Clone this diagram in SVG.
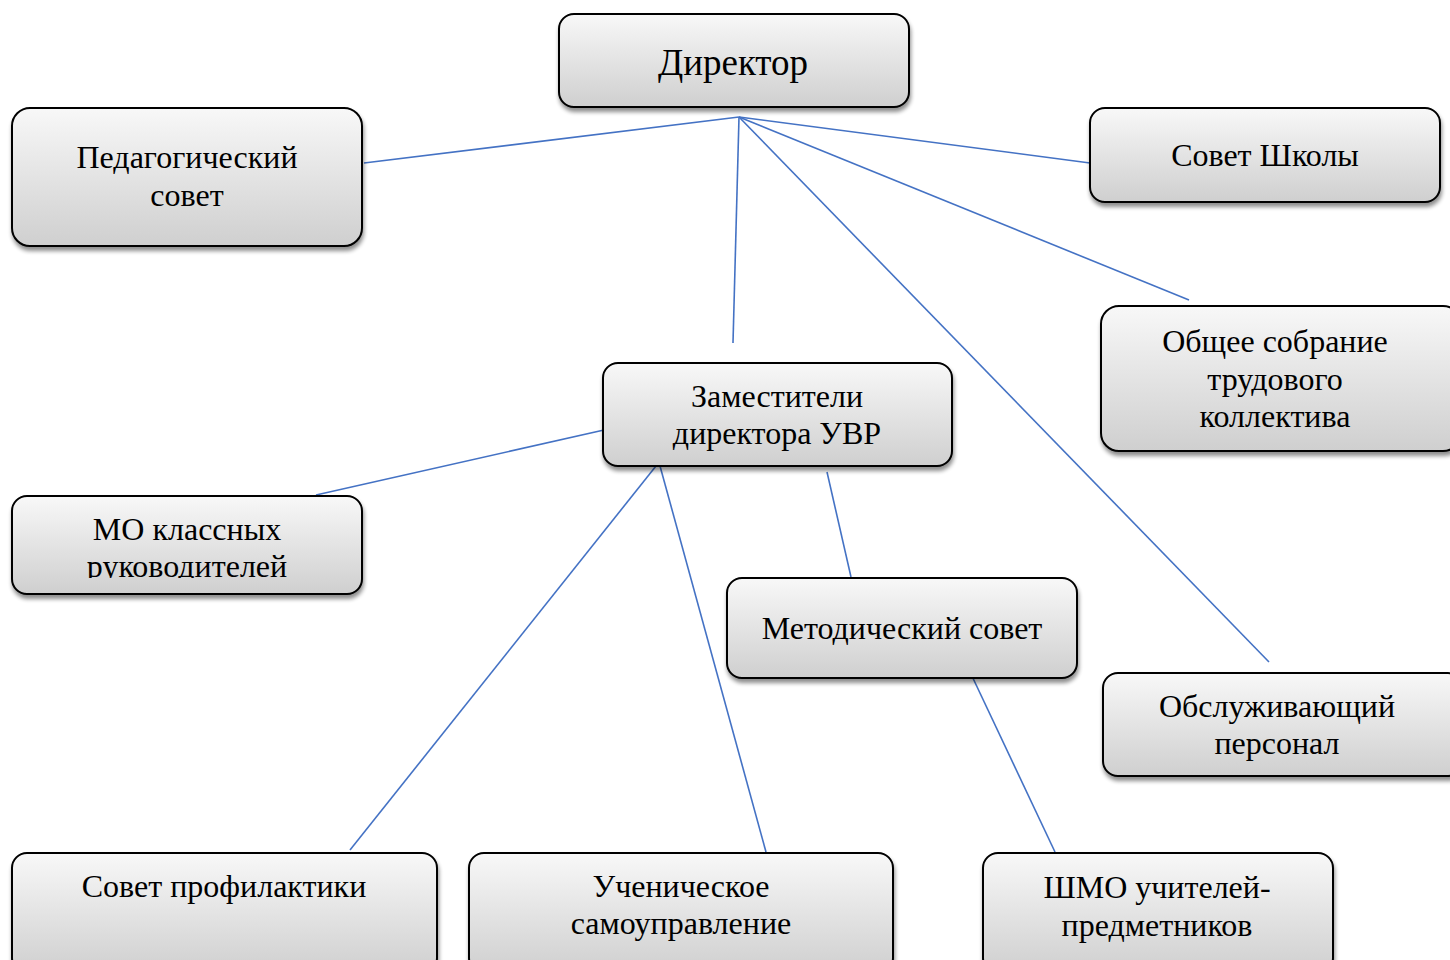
<svg xmlns="http://www.w3.org/2000/svg" width="1450" height="960" viewBox="0 0 1450 960">
<defs>
<linearGradient id="g" x1="0" y1="0" x2="0" y2="1">
<stop offset="0" stop-color="#f8f8f8"/>
<stop offset="1" stop-color="#cfcfcf"/>
</linearGradient>
<filter id="sh" x="-10%" y="-10%" width="120%" height="130%">
<feGaussianBlur in="SourceAlpha" stdDeviation="2"/>
<feOffset dx="1" dy="4" result="b"/>
<feComponentTransfer><feFuncA type="linear" slope="0.45"/></feComponentTransfer>
<feMerge><feMergeNode/><feMergeNode in="SourceGraphic"/></feMerge>
</filter>
<clipPath id="moclip"><rect x="0" y="490" width="400" height="88"/></clipPath>
</defs>
<style>
.box{fill:url(#g);stroke:#000;stroke-width:2;filter:url(#sh)}
.t{font-family:"Liberation Serif","Times New Roman",serif;font-size:32px;fill:#000;text-anchor:middle}
.big{font-size:37px}
.c{stroke:#4472c4;stroke-width:1.6;fill:none}
</style>
<rect width="1450" height="960" fill="#fff"/>
<g id="connectors">
<line class="c" x1="739" y1="117" x2="364" y2="163"/>
<line class="c" x1="739" y1="117" x2="1090" y2="163"/>
<line class="c" x1="739" y1="117" x2="1189" y2="300"/>
<line class="c" x1="739" y1="117" x2="1269" y2="662"/>
<line class="c" x1="739" y1="117" x2="733" y2="343"/>
<line class="c" x1="604" y1="430" x2="316" y2="495"/>
<line class="c" x1="656" y1="466" x2="350" y2="850"/>
<line class="c" x1="660" y1="466" x2="766" y2="852"/>
<line class="c" x1="827" y1="472" x2="851" y2="577"/>
<line class="c" x1="971" y1="674" x2="1055" y2="852"/>
</g>
<g id="director">
<rect class="box" x="559" y="14" width="350" height="93" rx="15"/>
<text class="t big" x="733" y="75">Директор</text>
</g>
<g id="pedsovet">
<rect class="box" x="12" y="108" width="350" height="138" rx="18"/>
<text class="t" x="187" y="168">Педагогический</text>
<text class="t" x="187" y="206">совет</text>
</g>
<g id="sovet-shkoly">
<rect class="box" x="1090" y="108" width="350" height="94" rx="15"/>
<text class="t" x="1265" y="166">Совет Школы</text>
</g>
<g id="obshchee">
<rect class="box" x="1101" y="306" width="360" height="145" rx="18"/>
<text class="t" x="1275" y="352">Общее собрание</text>
<text class="t" x="1275" y="390">трудового</text>
<text class="t" x="1275" y="427">коллектива</text>
</g>
<g id="zam">
<rect class="box" x="603" y="363" width="349" height="103" rx="15"/>
<text class="t" x="777" y="407">Заместители</text>
<text class="t" x="777" y="444">директора УВР</text>
</g>
<g id="mo">
<rect class="box" x="12" y="496" width="350" height="98" rx="15"/>
<g clip-path="url(#moclip)">
<text class="t" x="187" y="540">МО классных</text>
<text class="t" x="187" y="577">руководителей</text>
</g>
</g>
<g id="metod">
<rect class="box" x="727" y="578" width="350" height="100" rx="15"/>
<text class="t" x="902" y="639">Методический совет</text>
</g>
<g id="obsluzh">
<rect class="box" x="1103" y="673" width="360" height="103" rx="15"/>
<text class="t" x="1277" y="717">Обслуживающий</text>
<text class="t" x="1277" y="754">персонал</text>
</g>
<g id="profil">
<rect class="box" x="12" y="853" width="425" height="120" rx="15"/>
<text class="t" x="224" y="897">Совет профилактики</text>
</g>
<g id="uchen">
<rect class="box" x="469" y="853" width="424" height="120" rx="15"/>
<text class="t" x="681" y="897">Ученическое</text>
<text class="t" x="681" y="934">самоуправление</text>
</g>
<g id="shmo">
<rect class="box" x="983" y="853" width="350" height="120" rx="15"/>
<text class="t" x="1157" y="898">ШМО учителей-</text>
<text class="t" x="1157" y="936">предметников</text>
</g>
</svg>
